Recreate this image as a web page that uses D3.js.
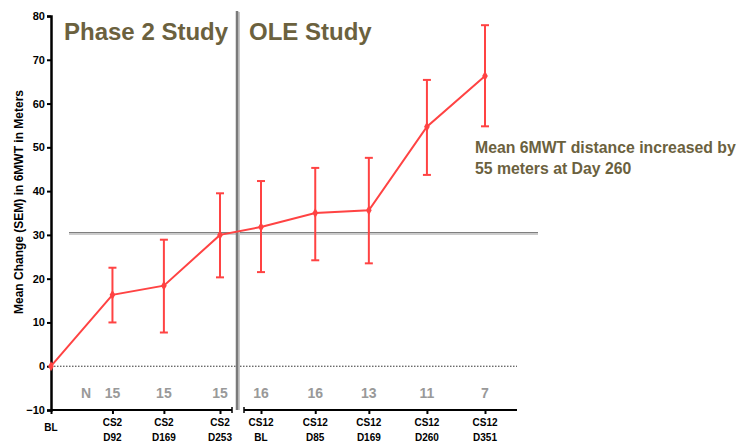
<!DOCTYPE html>
<html>
<head>
<meta charset="utf-8">
<script src="https://cdn.jsdelivr.net/npm/d3@7"></script>
<style>
    body { margin: 0; background: #fff; }
    svg { font-family: "Liberation Sans", Arial, sans-serif; }
</style>
</head>
<body>
<div id="chart"></div>
<script>
// 数据
const phase2Days = [0, 92, 169, 253];
const phase2Labels = [['BL'], ['CS2', 'D92'], ['CS2', 'D169'], ['CS2', 'D253']];
const phase2Mean = [0, 16.3, 18.4, 30.0];
const phase2Upper = [0, 22.5, 28.9, 39.5];
const phase2Lower = [0, 10.0, 7.7, 20.3];
const phase2N = ['', '15', '15', '15'];

const oleDays = [0, 85, 169, 260, 351];
const oleLabels = [['CS12', 'BL'], ['CS12', 'D85'], ['CS12', 'D169'], ['CS12', 'D260'], ['CS12', 'D351']];
const oleMean = [31.8, 35.0, 35.6, 54.7, 66.3];
const oleUpper = [42.3, 45.3, 47.6, 65.4, 77.9];
const oleLower = [21.5, 24.2, 23.5, 43.7, 54.8];
const oleN = ['16', '16', '13', '11', '7'];

const yTicks = [-10, 0, 10, 20, 30, 40, 50, 60, 70, 80];
const refLine = 30.5;

const width = 740, height = 443;
const svg = d3.select('#chart').append('svg')
    .attr('width', width)
    .attr('height', height);

// 比例尺
const y = d3.scaleLinear().domain([-10, 80]).range([410, 16]);
const x1 = d3.scaleLinear().domain([0, 253]).range([51, 220]);
const x2 = d3.scaleLinear().domain([0, 351]).range([261, 485]);

const red = '#ff4343';
const olive = '#6b613e';

// y 轴
const yAxis = svg.append('g')
    .attr('transform', 'translate(51,0)')
    .call(d3.axisLeft(y).tickValues(yTicks).tickSize(4).tickPadding(2));
yAxis.select('.domain').attr('stroke', '#000').attr('stroke-width', 2.5);
yAxis.selectAll('.tick line').attr('stroke', '#000').attr('stroke-width', 2);
yAxis.selectAll('.tick text')
    .attr('font-size', 11).attr('font-weight', 'bold').attr('fill', '#000');

svg.append('text')
    .attr('transform', 'translate(23,202) rotate(-90)')
    .attr('text-anchor', 'middle')
    .attr('font-size', 12).attr('font-weight', 'bold')
    .text('Mean Change (SEM) in 6MWT in Meters');

// x 轴（两段）
function drawXAxis(scale, days, labels, x0, xEnd, leftCap, rightCap) {
    const g = svg.append('g').attr('transform', `translate(0,${y(-10)})`);
    const ax = g.call(d3.axisBottom(scale).tickValues(days).tickSize(4).tickFormat(''));
    ax.select('.domain').remove();
    ax.selectAll('.tick line').attr('stroke', '#000').attr('stroke-width', 2);
    g.append('line').attr('x1', x0).attr('x2', xEnd).attr('stroke', '#000').attr('stroke-width', 2);
    if (leftCap) g.append('line').attr('x1', x0).attr('x2', x0).attr('y1', -3).attr('y2', 3).attr('stroke', '#000').attr('stroke-width', 1.5);
    if (rightCap) g.append('line').attr('x1', xEnd).attr('x2', xEnd).attr('y1', -3).attr('y2', 3).attr('stroke', '#000').attr('stroke-width', 1.5);
    days.forEach((d, i) => {
        const t = g.append('text')
            .attr('x', scale(d))
            .attr('text-anchor', 'middle')
            .attr('font-size', 10).attr('font-weight', 'bold')
            .attr('fill', '#000');
        const lines = labels[i];
        const y0 = lines.length === 1 ? 21 : 16;
        lines.forEach((s, j) => {
            t.append('tspan').attr('x', scale(d)).attr('y', y0 + j * 15).text(s);
        });
    });
}
drawXAxis(x1, phase2Days, phase2Labels, 51, 232, false, true);
drawXAxis(x2, oleDays, oleLabels, 244, 517, true, false);

// 0 参考线（虚线）
svg.append('line')
    .attr('x1', 51).attr('x2', 517)
    .attr('y1', y(0)).attr('y2', y(0))
    .attr('stroke', '#333').attr('stroke-width', 1)
    .attr('stroke-dasharray', '1.5,1.5');

// 水平灰线
svg.append('line')
    .attr('x1', 69).attr('x2', 538)
    .attr('y1', y(refLine) + 1.5).attr('y2', y(refLine) + 1.5)
    .attr('stroke', '#ccc').attr('stroke-width', 1.5);
svg.append('line')
    .attr('x1', 69).attr('x2', 538)
    .attr('y1', y(refLine)).attr('y2', y(refLine))
    .attr('stroke', '#7f7f7f').attr('stroke-width', 1.2);

// 竖向分隔线
svg.append('line')
    .attr('x1', 239).attr('x2', 239)
    .attr('y1', 12).attr('y2', 410)
    .attr('stroke', '#c8c8c8').attr('stroke-width', 2);
svg.append('line')
    .attr('x1', 237).attr('x2', 237)
    .attr('y1', 11).attr('y2', 410)
    .attr('stroke', '#7a7a7a').attr('stroke-width', 2.5);

// 标题
svg.append('text')
    .attr('x', 64).attr('y', 40)
    .attr('font-size', 24).attr('font-weight', 'bold').attr('fill', olive)
    .text('Phase 2 Study');
svg.append('text')
    .attr('x', 249).attr('y', 40)
    .attr('font-size', 24).attr('font-weight', 'bold').attr('fill', olive)
    .text('OLE Study');

// 注释
svg.append('text')
    .attr('x', 475).attr('y', 153)
    .attr('font-size', 15.8).attr('font-weight', 'bold').attr('fill', olive)
    .text('Mean 6MWT distance increased by');
svg.append('text')
    .attr('x', 475).attr('y', 174)
    .attr('font-size', 15.8).attr('font-weight', 'bold').attr('fill', olive)
    .text('55 meters at Day 260');

// 合并点
const points = phase2Days.map((d, i) => ({
    x: x1(d), mean: phase2Mean[i], hi: phase2Upper[i], lo: phase2Lower[i], n: phase2N[i]
})).concat(oleDays.map((d, i) => ({
    x: x2(d), mean: oleMean[i], hi: oleUpper[i], lo: oleLower[i], n: oleN[i]
})));

// 折线
const line = d3.line().x(d => d.x).y(d => y(d.mean));
svg.append('path')
    .datum(points)
    .attr('d', line)
    .attr('fill', 'none')
    .attr('stroke', red)
    .attr('stroke-width', 2);

// 误差线
const eb = svg.selectAll('.eb')
    .data(points.filter(d => d.hi !== d.lo))
    .enter().append('g').attr('class', 'eb');
eb.append('line')
    .attr('x1', d => d.x).attr('x2', d => d.x)
    .attr('y1', d => y(d.hi)).attr('y2', d => y(d.lo))
    .attr('stroke', red).attr('stroke-width', 2);
eb.append('line')
    .attr('x1', d => d.x - 4).attr('x2', d => d.x + 4)
    .attr('y1', d => y(d.hi)).attr('y2', d => y(d.hi))
    .attr('stroke', red).attr('stroke-width', 2);
eb.append('line')
    .attr('x1', d => d.x - 4).attr('x2', d => d.x + 4)
    .attr('y1', d => y(d.lo)).attr('y2', d => y(d.lo))
    .attr('stroke', red).attr('stroke-width', 2);

// 数据点
svg.selectAll('.pt')
    .data(points)
    .enter().append('path')
    .attr('class', 'pt')
    .attr('transform', d => `translate(${d.x},${y(d.mean)})`)
    .attr('d', d3.symbol().type(d3.symbolDiamond).size(28))
    .attr('fill', red);

// N 行
svg.append('text')
    .attr('x', 86).attr('y', 398)
    .attr('text-anchor', 'middle')
    .attr('font-size', 14).attr('font-weight', 'bold').attr('fill', '#999')
    .text('N');
svg.selectAll('.ntxt')
    .data(points.filter(d => d.n !== ''))
    .enter().append('text')
    .attr('class', 'ntxt')
    .attr('x', d => d.x)
    .attr('y', 398)
    .attr('text-anchor', 'middle')
    .attr('font-size', 14).attr('font-weight', 'bold').attr('fill', '#999')
    .text(d => d.n);
</script>
</body>
</html>
